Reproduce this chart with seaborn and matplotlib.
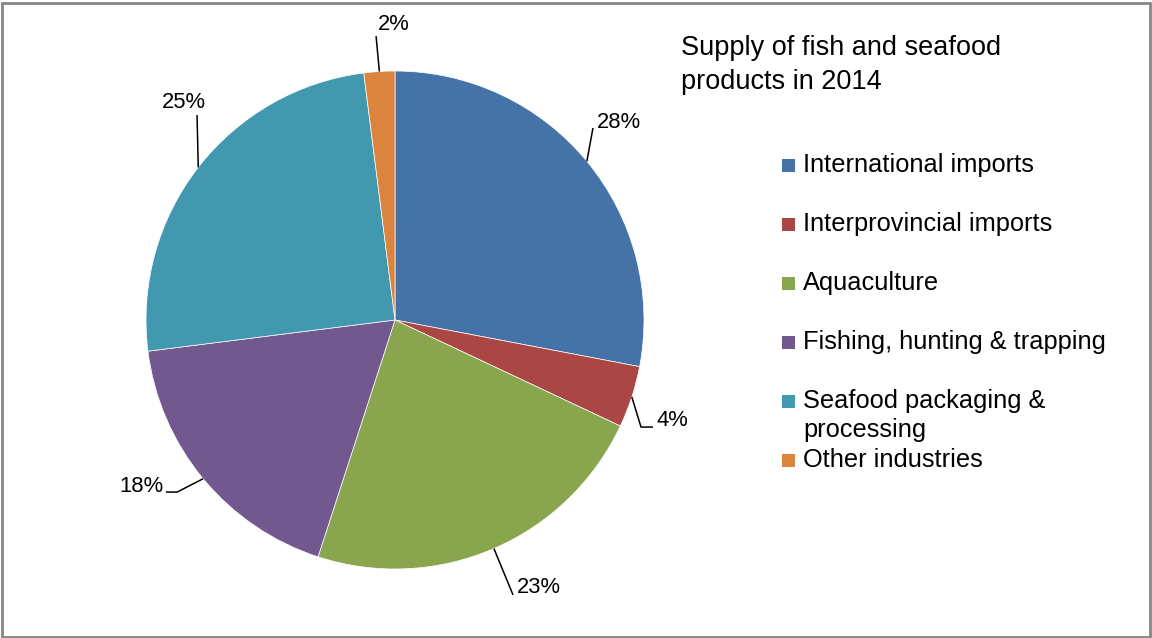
import numpy as np
import matplotlib
matplotlib.use("Agg")
import matplotlib.pyplot as plt
from matplotlib.patches import Rectangle
import seaborn as sns

# Supply shares (percent) by source
categories = [
    "International imports",
    "Interprovincial imports",
    "Aquaculture",
    "Fishing, hunting & trapping",
    "Seafood packaging &\nprocessing",
    "Other industries",
]
shares = [28, 4, 23, 18, 25, 2]
labels = [f"{v}%" for v in shares]
title = "Supply of fish and seafood\nproducts in 2014"

sns.set_theme(style="white")
plt.rcParams["font.family"] = ["Liberation Sans", "DejaVu Sans"]
palette = sns.color_palette(["#4572A7", "#AA4643", "#89A54E", "#71588F", "#4198AF", "#DB843D"])

W, H = 1152, 638
fig = plt.figure(figsize=(W / 100, H / 100), dpi=100)

# square axes holding the pie (center ~ (395, 320) px, radius ~ 249 px)
cx, cy, r = 395, 320, 249
ax = fig.add_axes([(cx - r) / W, (H - cy - r) / H, 2 * r / W, 2 * r / H])
wedges, _ = ax.pie(shares, colors=palette, startangle=90, counterclock=False,
                   radius=1, wedgeprops=dict(edgecolor="white", linewidth=0.5))
ax.set_xlim(-1, 1)
ax.set_ylim(-1, 1)
ax.set_aspect("equal")
ax.axis("off")

# label placement: leader-line bend points and text anchors (data units)
leader_pts = [
    [(0.795, 0.771)],
    [(0.988, -0.430), (1.036, -0.430)],
    [(0.474, -1.104)],
    [(-0.875, -0.691), (-0.920, -0.691)],
    [(-0.795, 0.823)],
    [(-0.076, 1.140)],
]
text_pos = [
    (0.810, 0.795, "left", "center"),
    (1.050, -0.405, "left", "center"),
    (0.490, -1.075, "left", "center"),
    (-0.928, -0.668, "right", "center"),
    (-0.937, 0.872, "left", "center"),
    (-0.070, 1.185, "left", "center"),
]

for w, lab, pts, (tx, ty, ha, va) in zip(wedges, labels, leader_pts, text_pos):
    mid = np.deg2rad((w.theta1 + w.theta2) / 2)
    path = [(np.cos(mid), np.sin(mid))] + pts
    xs, ys = zip(*path)
    ax.plot(xs, ys, color="black", lw=1.1, clip_on=False, solid_capstyle="butt")
    ax.text(tx, ty, lab, ha=ha, va=va, fontsize=15.8, color="black")

# title, one line at a time
for i, line in enumerate(title.split("\n")):
    fig.text(681 / W, 1 - (48 + 34 * i) / H, line, ha="left", va="center",
             fontsize=19.5, color="black")

# legend
leg_rows = [165, 224, 283, 342, 401, 460]
for cat, col, yrow in zip(categories, palette, leg_rows):
    fig.patches.append(Rectangle((782 / W, 1 - (yrow + 7) / H), 13 / W, 13 / H,
                                 transform=fig.transFigure, facecolor=col, edgecolor="none"))
    for j, line in enumerate(cat.split("\n")):
        fig.text(803 / W, 1 - (yrow + 29 * j) / H, line, ha="left", va="center",
                 fontsize=18.3, color="black")

# outer frame
fig.patches.append(Rectangle((1.5 / W, 1.5 / H), (W - 3.5) / W, (H - 4) / H,
                             transform=fig.transFigure, fill=False,
                             edgecolor="#868686", linewidth=2))

fig.savefig("out.png", dpi=100, facecolor="white")
